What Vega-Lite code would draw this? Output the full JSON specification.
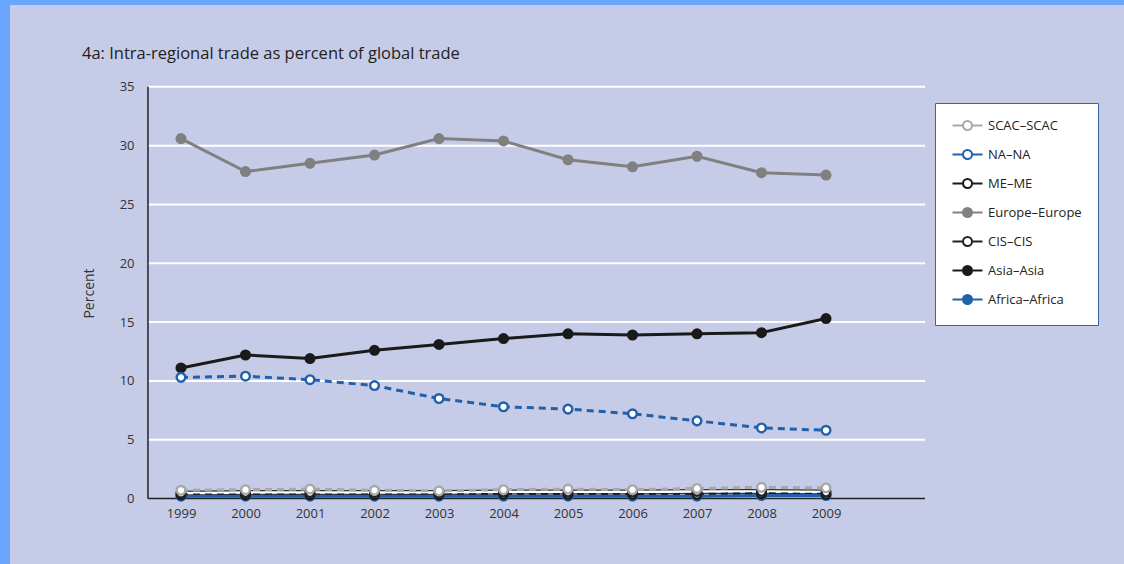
{
  "$schema": "https://vega.github.io/schema/vega-lite/v6.json",
  "autosize": "none",
  "width": 1114,
  "height": 559,
  "padding": {"left": 10, "top": 5, "right": 0, "bottom": 0},
  "background": "#6aa6fb",
  "config": {
    "view": {"fill": "#c6cce7", "stroke": null},
    "font": "Open Sans"
  },
  "title": {
    "text": "4a: Intra-regional trade as percent of global trade",
    "anchor": "start",
    "frame": "group",
    "orient": "top",
    "offset": -57,
    "dx": 72,
    "font": "Open Sans",
    "fontSize": 16.5,
    "fontWeight": "normal",
    "color": "#222222"
  },
  "datasets": {
    "series": [
      {"series": "Europe–Europe", "year": 1999, "value": 30.6},
      {"series": "Europe–Europe", "year": 2000, "value": 27.8},
      {"series": "Europe–Europe", "year": 2001, "value": 28.5},
      {"series": "Europe–Europe", "year": 2002, "value": 29.2},
      {"series": "Europe–Europe", "year": 2003, "value": 30.6},
      {"series": "Europe–Europe", "year": 2004, "value": 30.4},
      {"series": "Europe–Europe", "year": 2005, "value": 28.8},
      {"series": "Europe–Europe", "year": 2006, "value": 28.2},
      {"series": "Europe–Europe", "year": 2007, "value": 29.1},
      {"series": "Europe–Europe", "year": 2008, "value": 27.7},
      {"series": "Europe–Europe", "year": 2009, "value": 27.5},
      {"series": "Asia–Asia", "year": 1999, "value": 11.1},
      {"series": "Asia–Asia", "year": 2000, "value": 12.2},
      {"series": "Asia–Asia", "year": 2001, "value": 11.9},
      {"series": "Asia–Asia", "year": 2002, "value": 12.6},
      {"series": "Asia–Asia", "year": 2003, "value": 13.1},
      {"series": "Asia–Asia", "year": 2004, "value": 13.6},
      {"series": "Asia–Asia", "year": 2005, "value": 14.0},
      {"series": "Asia–Asia", "year": 2006, "value": 13.9},
      {"series": "Asia–Asia", "year": 2007, "value": 14.0},
      {"series": "Asia–Asia", "year": 2008, "value": 14.1},
      {"series": "Asia–Asia", "year": 2009, "value": 15.3},
      {"series": "NA–NA", "year": 1999, "value": 10.3},
      {"series": "NA–NA", "year": 2000, "value": 10.4},
      {"series": "NA–NA", "year": 2001, "value": 10.1},
      {"series": "NA–NA", "year": 2002, "value": 9.6},
      {"series": "NA–NA", "year": 2003, "value": 8.5},
      {"series": "NA–NA", "year": 2004, "value": 7.8},
      {"series": "NA–NA", "year": 2005, "value": 7.6},
      {"series": "NA–NA", "year": 2006, "value": 7.2},
      {"series": "NA–NA", "year": 2007, "value": 6.6},
      {"series": "NA–NA", "year": 2008, "value": 6.0},
      {"series": "NA–NA", "year": 2009, "value": 5.8},
      {"series": "Africa–Africa", "year": 1999, "value": 0.2},
      {"series": "Africa–Africa", "year": 2000, "value": 0.2},
      {"series": "Africa–Africa", "year": 2001, "value": 0.2},
      {"series": "Africa–Africa", "year": 2002, "value": 0.2},
      {"series": "Africa–Africa", "year": 2003, "value": 0.2},
      {"series": "Africa–Africa", "year": 2004, "value": 0.2},
      {"series": "Africa–Africa", "year": 2005, "value": 0.2},
      {"series": "Africa–Africa", "year": 2006, "value": 0.2},
      {"series": "Africa–Africa", "year": 2007, "value": 0.2},
      {"series": "Africa–Africa", "year": 2008, "value": 0.25},
      {"series": "Africa–Africa", "year": 2009, "value": 0.25},
      {"series": "ME–ME", "year": 1999, "value": 0.3},
      {"series": "ME–ME", "year": 2000, "value": 0.3},
      {"series": "ME–ME", "year": 2001, "value": 0.3},
      {"series": "ME–ME", "year": 2002, "value": 0.3},
      {"series": "ME–ME", "year": 2003, "value": 0.3},
      {"series": "ME–ME", "year": 2004, "value": 0.35},
      {"series": "ME–ME", "year": 2005, "value": 0.35},
      {"series": "ME–ME", "year": 2006, "value": 0.35},
      {"series": "ME–ME", "year": 2007, "value": 0.35},
      {"series": "ME–ME", "year": 2008, "value": 0.4},
      {"series": "ME–ME", "year": 2009, "value": 0.35},
      {"series": "CIS–CIS", "year": 1999, "value": 0.45},
      {"series": "CIS–CIS", "year": 2000, "value": 0.5},
      {"series": "CIS–CIS", "year": 2001, "value": 0.5},
      {"series": "CIS–CIS", "year": 2002, "value": 0.5},
      {"series": "CIS–CIS", "year": 2003, "value": 0.5},
      {"series": "CIS–CIS", "year": 2004, "value": 0.55},
      {"series": "CIS–CIS", "year": 2005, "value": 0.55},
      {"series": "CIS–CIS", "year": 2006, "value": 0.55},
      {"series": "CIS–CIS", "year": 2007, "value": 0.6},
      {"series": "CIS–CIS", "year": 2008, "value": 0.6},
      {"series": "CIS–CIS", "year": 2009, "value": 0.55},
      {"series": "SCAC–SCAC", "year": 1999, "value": 0.7},
      {"series": "SCAC–SCAC", "year": 2000, "value": 0.75},
      {"series": "SCAC–SCAC", "year": 2001, "value": 0.8},
      {"series": "SCAC–SCAC", "year": 2002, "value": 0.7},
      {"series": "SCAC–SCAC", "year": 2003, "value": 0.65},
      {"series": "SCAC–SCAC", "year": 2004, "value": 0.75},
      {"series": "SCAC–SCAC", "year": 2005, "value": 0.8},
      {"series": "SCAC–SCAC", "year": 2006, "value": 0.75},
      {"series": "SCAC–SCAC", "year": 2007, "value": 0.85},
      {"series": "SCAC–SCAC", "year": 2008, "value": 0.95},
      {"series": "SCAC–SCAC", "year": 2009, "value": 0.9}
    ],
    "grid": [
      {"value": 5}, {"value": 10}, {"value": 15}, {"value": 20},
      {"value": 25}, {"value": 30}, {"value": 35}
    ],
    "one": [{"k": 1}]
  },
  "layer": [
    {
      "data": {"name": "grid"},
      "mark": {"type": "rule", "stroke": "#ffffff", "strokeWidth": 2},
      "encoding": {
        "y": {
          "field": "value", "type": "quantitative",
          "scale": {"domain": [-5.57, 41.96], "nice": false, "zero": false},
          "axis": {
            "values": [0, 5, 10, 15, 20, 25, 30, 35],
            "grid": false, "domain": false, "ticks": false,
            "offset": -138, "labelPadding": 14,
            "labelFont": "Open Sans", "labelFontSize": 13, "labelColor": "#333333",
            "title": "Percent", "titleFont": "Open Sans", "titleFontSize": 14,
            "titleFontWeight": "normal", "titleColor": "#333333", "titlePadding": 23, "titleY": 288
          }
        },
        "x": {
          "datum": 1998.488, "type": "quantitative",
          "scale": {"domain": [1996.349, 2013.62], "nice": false, "zero": false},
          "axis": {
            "values": [1999, 2000, 2001, 2002, 2003, 2004, 2005, 2006, 2007, 2008, 2009],
            "format": "d", "grid": false, "domain": false, "ticks": false,
            "offset": -65.5, "labelPadding": 9,
            "labelFont": "Open Sans", "labelFontSize": 13, "labelColor": "#333333",
            "title": null
          }
        },
        "x2": {"datum": 2010.535}
      }
    },
    {
      "data": {"name": "one"},
      "mark": {"type": "rule", "stroke": "#222222", "strokeWidth": 1.5},
      "encoding": {
        "x": {"datum": 1998.488, "type": "quantitative"},
        "y": {"datum": 0, "type": "quantitative"},
        "y2": {"datum": 35}
      }
    },
    {
      "data": {"name": "one"},
      "mark": {"type": "rule", "stroke": "#222222", "strokeWidth": 1.5},
      "encoding": {
        "x": {"datum": 1998.488, "type": "quantitative"},
        "x2": {"datum": 2010.535},
        "y": {"datum": 0, "type": "quantitative"}
      }
    },
    {
      "data": {"name": "series"},
      "transform": [{"filter": "datum.series === 'CIS–CIS'"}],
      "mark": {"type": "line", "stroke": "#333333", "strokeWidth": 5},
      "encoding": {
        "x": {"field": "year", "type": "quantitative"},
        "y": {"field": "value", "type": "quantitative"}
      }
    },
    {
      "data": {"name": "series"},
      "transform": [{"filter": "datum.series === 'CIS–CIS'"}],
      "mark": {"type": "line", "stroke": "#ffffff", "strokeWidth": 2.5},
      "encoding": {
        "x": {"field": "year", "type": "quantitative"},
        "y": {"field": "value", "type": "quantitative"}
      }
    },
    {
      "data": {"name": "series"},
      "transform": [{"filter": "datum.series === 'SCAC–SCAC' || datum.series === 'NA–NA' || datum.series === 'ME–ME'"}],
      "mark": {"type": "line", "strokeWidth": 3, "strokeDash": [7, 5]},
      "encoding": {
        "x": {"field": "year", "type": "quantitative"},
        "y": {"field": "value", "type": "quantitative"},
        "color": {
          "field": "series", "type": "nominal", "legend": null,
          "scale": {
            "domain": ["Africa–Africa", "Asia–Asia", "Europe–Europe", "ME–ME", "NA–NA", "SCAC–SCAC"],
            "range": ["#2160aa", "#1a1a1a", "#808080", "#1a1a1a", "#2160aa", "#a8a8a8"]
          }
        }
      }
    },
    {
      "data": {"name": "series"},
      "transform": [{"filter": "datum.series === 'Europe–Europe' || datum.series === 'Asia–Asia' || datum.series === 'Africa–Africa'"}],
      "mark": {"type": "line", "strokeWidth": 3},
      "encoding": {
        "x": {"field": "year", "type": "quantitative"},
        "y": {"field": "value", "type": "quantitative"},
        "color": {
          "field": "series", "type": "nominal", "legend": null,
          "scale": {
            "domain": ["Africa–Africa", "Asia–Asia", "Europe–Europe", "ME–ME", "NA–NA", "SCAC–SCAC"],
            "range": ["#2160aa", "#1a1a1a", "#808080", "#1a1a1a", "#2160aa", "#a8a8a8"]
          }
        }
      }
    },
    {
      "data": {"name": "series"},
      "mark": {"type": "point", "shape": "circle", "size": 75, "strokeWidth": 2.4, "opacity": 1, "filled": false},
      "encoding": {
        "x": {"field": "year", "type": "quantitative"},
        "y": {"field": "value", "type": "quantitative"},
        "stroke": {
          "field": "series", "type": "nominal",
          "scale": {
            "domain": ["SCAC–SCAC", "NA–NA", "ME–ME", "Europe–Europe", "CIS–CIS", "Asia–Asia", "Africa–Africa"],
            "range": ["#a8a8a8", "#2160aa", "#1a1a1a", "#808080", "#222222", "#1a1a1a", "#2160aa"]
          },
          "legend": {
            "title": null,
            "orient": "none",
            "legendX": 925,
            "legendY": 98,
            "fillColor": "#ffffff",
            "strokeColor": "#3566a8",
            "padding": 16,
            "rowPadding": 10,
            "labelFont": "Open Sans",
            "labelFontSize": 13,
            "labelColor": "#222222",
            "labelOffset": 24,
            "symbolSize": 100,
            "symbolStrokeWidth": 2,
            "symbolType": "M-1,0L1.1,0 M2.9,0L5,0 M1.1,0A0.9,0.9,0,1,1,2.9,0A0.9,0.9,0,1,1,1.1,0Z",
            "encode": {
              "legend": {"strokeWidth": {"value": 2}},
              "symbols": {
                "shape": {"value": {"expr": "datum.value === 'CIS–CIS' ? 'M-1,-0.3L1.1,-0.3L1.1,0.3L-1,0.3Z M2.9,-0.3L5,-0.3L5,0.3L2.9,0.3Z M1.1,0A0.9,0.9,0,1,1,2.9,0A0.9,0.9,0,1,1,1.1,0Z' : 'M-1,0L1.1,0 M2.9,0L5,0 M1.1,0A0.9,0.9,0,1,1,2.9,0A0.9,0.9,0,1,1,1.1,0Z'"}}
              }
            }
          }
        },
        "fill": {
          "field": "series", "type": "nominal",
          "scale": {
            "domain": ["SCAC–SCAC", "NA–NA", "ME–ME", "Europe–Europe", "CIS–CIS", "Asia–Asia", "Africa–Africa"],
            "range": ["#ffffff", "#ffffff", "#ffffff", "#808080", "#ffffff", "#1a1a1a", "#2160aa"]
          },
          "legend": {
            "title": null,
            "orient": "none",
            "legendX": 925,
            "legendY": 98,
            "fillColor": "#ffffff",
            "strokeColor": "#3566a8",
            "padding": 16,
            "rowPadding": 10,
            "labelFont": "Open Sans",
            "labelFontSize": 13,
            "labelColor": "#222222",
            "labelOffset": 24,
            "symbolSize": 100,
            "symbolStrokeWidth": 2,
            "symbolType": "M-1,0L1.1,0 M2.9,0L5,0 M1.1,0A0.9,0.9,0,1,1,2.9,0A0.9,0.9,0,1,1,1.1,0Z",
            "encode": {
              "legend": {"strokeWidth": {"value": 2}},
              "symbols": {
                "shape": {"value": {"expr": "datum.value === 'CIS–CIS' ? 'M-1,-0.3L1.1,-0.3L1.1,0.3L-1,0.3Z M2.9,-0.3L5,-0.3L5,0.3L2.9,0.3Z M1.1,0A0.9,0.9,0,1,1,2.9,0A0.9,0.9,0,1,1,1.1,0Z' : 'M-1,0L1.1,0 M2.9,0L5,0 M1.1,0A0.9,0.9,0,1,1,2.9,0A0.9,0.9,0,1,1,1.1,0Z'"}}
              }
            }
          }
        }
      }
    }
  ]
}
